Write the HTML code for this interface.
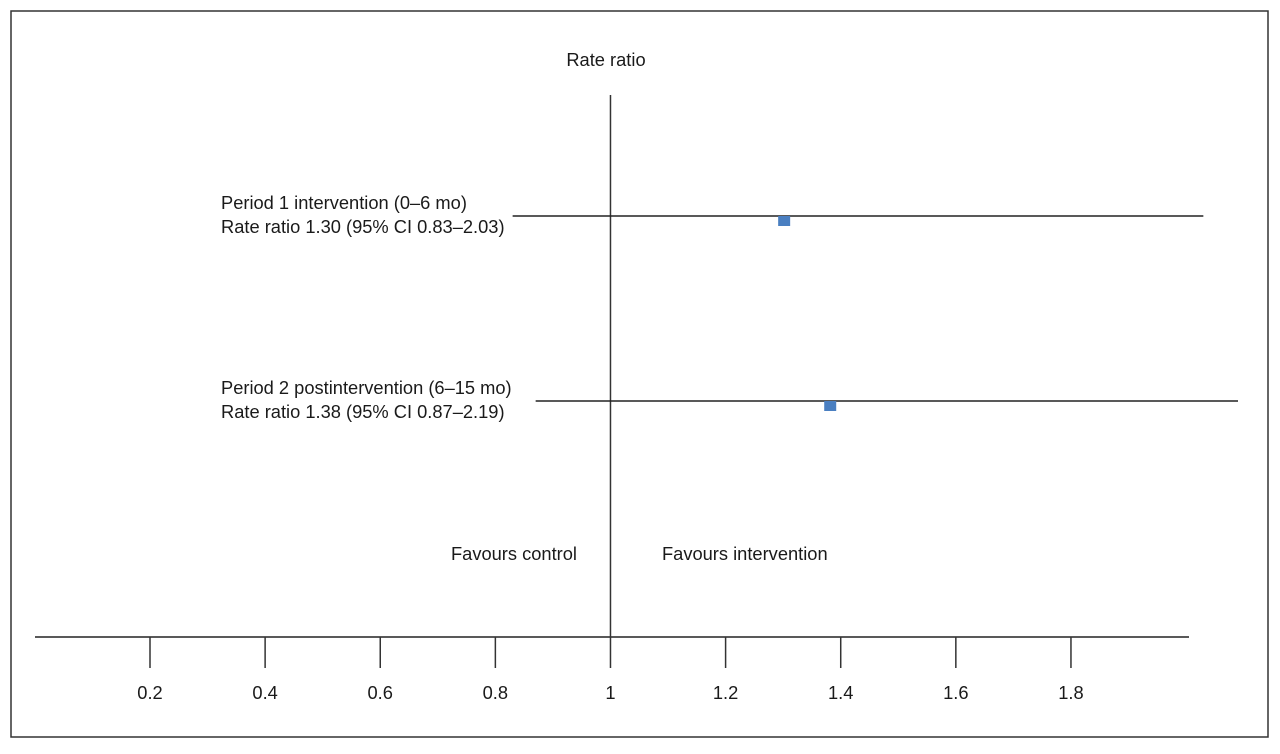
<!DOCTYPE html>
<html><head><meta charset="utf-8"><style>
html,body{margin:0;padding:0;background:#fff;}
svg text{font-family:"Liberation Sans",Arial,sans-serif;fill:#1a1a1a;}
</style></head><body>
<svg width="1280" height="749" viewBox="0 0 1280 749" xmlns="http://www.w3.org/2000/svg">
<rect x="11" y="11" width="1257" height="726" fill="#fff" stroke="#333" stroke-width="1.5"/>
<g id="g"></g>
</svg>
<script>
const tickValues=[0.2,0.4,0.6,0.8,1,1.2,1.4,1.6,1.8];
const tickLabels=["0.2","0.4","0.6","0.8","1","1.2","1.4","1.6","1.8"];
const estimates=[1.30,1.38];
const ciLow=[0.83,0.87];
const ciHigh=[2.03,2.19];
const labelLine1=["Period 1 intervention (0–6 mo)","Period 2 postintervention (6–15 mo)"];
const labelLine2=["Rate ratio 1.30 (95% CI 0.83–2.03)","Rate ratio 1.38 (95% CI 0.87–2.19)"];

const NS="http://www.w3.org/2000/svg";
const g=document.getElementById('g');
function x(v){return 150+(v-0.2)*575.6;}
const rowY=[216,401];
const axisY=637;
const FS=18.3;
function mk(tag,attrs,text){const e=document.createElementNS(NS,tag);for(const k in attrs)e.setAttribute(k,attrs[k]);if(text!==undefined)e.textContent=text;g.appendChild(e);return e;}

let e;
e=mk('line',{x1:35,x2:1189,y1:axisY,y2:axisY,stroke:'#222','stroke-width':1.5});


tickValues.forEach((v,i)=>{
  e=mk('line',{x1:x(v),x2:x(v),y1:axisY,y2:668,stroke:'#333','stroke-width':1.5});
  
  
  e=mk('text',{x:x(v),y:699,'text-anchor':'middle','font-size':FS},tickLabels[i]);
  
  
});
e=mk('line',{x1:x(1),x2:x(1),y1:95,y2:axisY,stroke:'#333','stroke-width':1.5});


e=mk('text',{x:606,y:66,'text-anchor':'middle','font-size':FS},'Rate ratio');


e=mk('text',{x:577,y:560,'text-anchor':'end','font-size':FS},'Favours control');


e=mk('text',{x:662,y:560,'font-size':FS},'Favours intervention');



estimates.forEach((v,i)=>{
  const y=rowY[i];
  e=mk('line',{x1:x(ciLow[i]),x2:Math.min(x(ciHigh[i]),1238),y1:y,y2:y,stroke:'#222','stroke-width':1.5});
  
  
  e=mk('rect',{x:x(v)-5,y:y,width:12,height:10,fill:'#4a7fc1'});
  
  
  e=mk('text',{x:221,y:y-7,'font-size':FS},labelLine1[i]);
  
  
  e=mk('text',{x:221,y:y+17,'font-size':FS},labelLine2[i]);
  
  
});
</script>
</body></html>
